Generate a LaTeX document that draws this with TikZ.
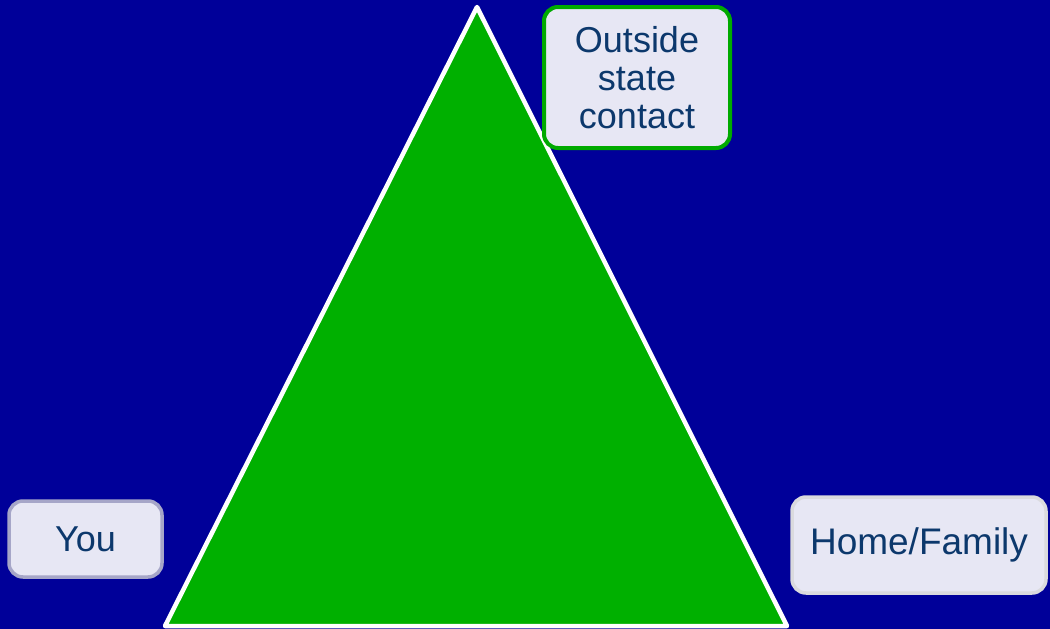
\documentclass[tikz,border=0pt]{standalone}
\usepackage{fontspec}
\setmainfont{Liberation Sans}
\definecolor{bgblue}{RGB}{0,0,153}
\definecolor{trigreen}{RGB}{0,176,0}
\definecolor{boxfill}{RGB}{231,231,244}
\definecolor{txtblue}{RGB}{12,56,108}
\definecolor{youedge}{RGB}{166,166,200}
\definecolor{homeedge}{RGB}{218,218,222}
\definecolor{outedge}{RGB}{0,170,0}
\begin{document}
\begin{tikzpicture}[x=1pt,y=-1pt,
  labelbox/.style={draw, fill=boxfill, rounded corners=14pt, text=txtblue,
    font=\fontsize{36}{38}\selectfont, align=center, inner sep=0pt, outer sep=0pt}]
\useasboundingbox (0,0) rectangle (1050,629);
\fill[bgblue] (0,0) rectangle (1050,629);
\coordinate (apex) at (477,7);
\coordinate (bl) at (165,626);
\coordinate (br) at (787,626);
\draw[white, line width=4.5pt, fill=trigreen, line join=round] (apex) -- (br) -- (bl) -- cycle;
\node[labelbox, draw=outedge, line width=4pt, minimum width=186pt, minimum height=141pt] (outside) at (637,77.5) {\raisebox{1pt}{\parbox{186pt}{\centering Outside\\state\\contact}}};
\node[labelbox, draw=youedge, line width=3.5pt, minimum width=153pt, minimum height=76pt] (you) at (85.5,539) {You};
\node[labelbox, draw=homeedge, line width=3.5pt, minimum width=254pt, minimum height=96pt, font=\fontsize{37}{40}\selectfont] (home) at (919,545) {\raisebox{-2pt}{Home/Family}};
\end{tikzpicture}
\end{document}
